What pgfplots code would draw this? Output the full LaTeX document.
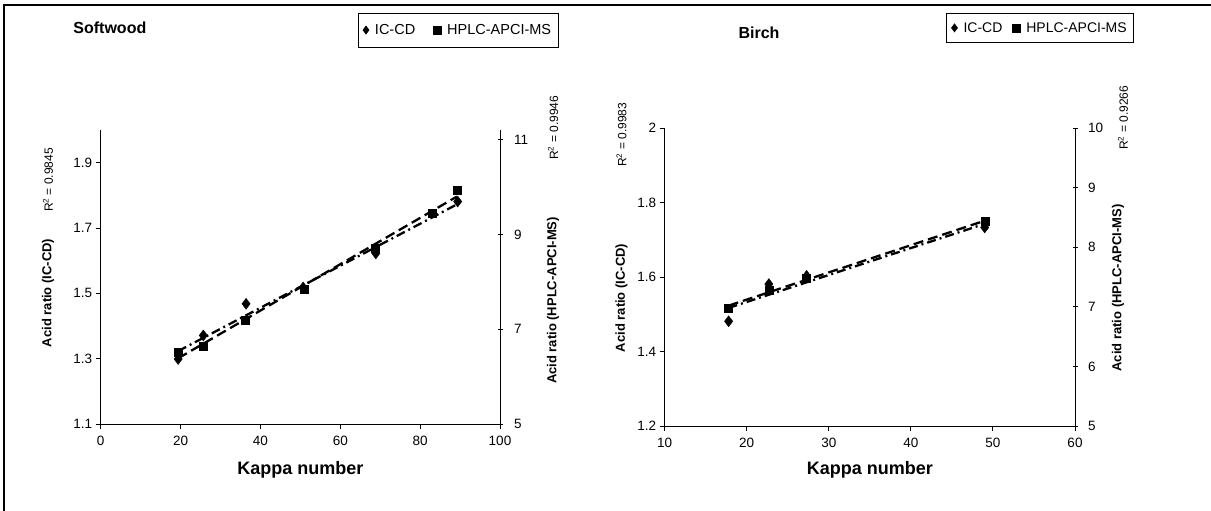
\documentclass[border=0pt]{standalone}
\usepackage{fontspec}
\setmainfont{Liberation Sans}
\usepackage{pgfplots}
\usepackage{pgfplotstable}
\pgfplotsset{compat=1.18}

\pgfplotstableread{
X Y
19.4 1.299
25.7 1.371
36.4 1.468
50.7 1.518
68.9 1.622
89.4 1.781
}\swic

\pgfplotstableread{
X Y
19.4 6.51
25.7 6.65
36.2 7.20
50.9 7.84
68.7 8.72
82.9 9.45
89.2 9.94
}\swms

\pgfplotstableread{
X Y
17.8 1.481
22.7 1.581
27.3 1.603
49.0 1.733
}\bic

\pgfplotstableread{
X Y
17.8 6.97
22.7 7.28
27.3 7.48
49.0 8.43
}\bms

\newcommand{\tickfont}{\fontsize{13.5}{16}\selectfont}
\pgfplotsset{
  every tick label/.append style={font=\tickfont},
  base/.style={
    scale only axis, clip=false,
    axis line style={black, line width=0.9pt, -},
    major tick style={black, line width=0.9pt},
    major tick length=5pt,
    xticklabel style={font=\tickfont, yshift=-4pt},
    yticklabel style={font=\tickfont},
    ylabel style={font=\bfseries\fontsize{13}{15}\selectfont, anchor=center},
    xlabel style={font=\bfseries\fontsize{18}{20}\selectfont, anchor=center},
  },
  icmark/.style={only marks, mark=diamond*, mark size=5.5pt, black},
  msmark/.style={only marks, mark=square*, mark size=4pt, black},
  icline/.style={no marks, black, line width=2.3pt, dash pattern=on 9pt off 4pt on 2pt off 4pt},
  msline/.style={no marks, black, line width=2.3pt, dash pattern=on 10pt off 5pt},
  leg/.style={legend columns=2, legend image post style={mark size=4pt},
    legend style={draw=black, line width=0.6pt, anchor=center, inner xsep=5pt, inner ysep=9pt,
      /tikz/every odd column/.append style={column sep=4pt},
      /tikz/every even column/.append style={column sep=16pt}}},
}

\begin{document}
\begin{tikzpicture}
\useasboundingbox (0pt,0pt) rectangle (1211pt,511pt);

% ---------------- Softwood ----------------
\begin{axis}[base, at={(100.7pt,87pt)}, anchor=south west,
  width=399.3pt, height=294pt,
  xmin=0, xmax=100, ymin=1.1, ymax=2.0,
  axis x line*=bottom, axis y line*=left, tick align=outside,
  xtick={0,20,40,60,80,100}, xticklabels={0,20,40,60,80,100},
  ytick={1.1,1.3,1.5,1.7,1.9}, yticklabels={1.1,1.3,1.5,1.7,1.9},
  xlabel={Kappa number}, xlabel style={at={(axis description cs:0.5,-0.156)}},
  ylabel={Acid ratio (IC-CD)}, ylabel style={at={(axis description cs:-0.132,0.446)}},
]
\addplot[icmark] table[x=X,y=Y]{\swic};
\addplot[icline] table[x=X, y={create col/linear regression={y=Y}}]{\swic};
\node[rotate=90, font=\fontsize{12}{14}\selectfont] at (axis description cs:-0.132,0.83) {R\textsuperscript{2} = 0.9845};
\node[font=\bfseries\fontsize{16}{18}\selectfont] at (axis description cs:0.023,1.347) {Softwood};
\end{axis}
\begin{axis}[base, leg, at={(100.7pt,87pt)}, anchor=south west,
  width=399.3pt, height=294pt,
  xmin=0, xmax=100, ymin=5, ymax=11.207,
  axis x line=none, axis y line*=right, tick align=center,
  ytick={5,7,9,11}, yticklabels={5,7,9,11},
  yticklabel style={xshift=8pt},
  ylabel={Acid ratio (HPLC-APCI-MS)}, ylabel style={at={(axis description cs:1.133,0.42)}},
  legend style={at={(axis description cs:0.895,1.34)}, font=\fontsize{14.5}{17}\selectfont},
]
\addlegendimage{icmark}
\addlegendentry{IC-CD}
\addplot[msmark] table[x=X,y=Y]{\swms};
\addlegendentry{HPLC-APCI-MS}
\addplot[msline, forget plot] table[x=X, y={create col/linear regression={y=Y}}]{\swms};
\node[rotate=90, font=\fontsize{12}{14}\selectfont] at (axis description cs:1.133,1.007) {R\textsuperscript{2} = 0.9946};
\end{axis}

% ---------------- Birch ----------------
\begin{axis}[base, at={(664.6pt,85pt)}, anchor=south west,
  width=410.4pt, height=298pt,
  xmin=10, xmax=60, ymin=1.2, ymax=2.0,
  axis x line*=bottom, axis y line*=left, tick align=outside,
  xtick={10,20,30,40,50,60}, xticklabels={10,20,30,40,50,60},
  ytick={1.2,1.4,1.6,1.8,2.0}, yticklabels={1.2,1.4,1.6,1.8,2},
  xlabel={Kappa number}, xlabel style={at={(axis description cs:0.5,-0.148)}},
  ylabel={Acid ratio (IC-CD)}, ylabel style={at={(axis description cs:-0.105,0.43)}},
]
\addplot[icmark] table[x=X,y=Y]{\bic};
\addplot[icline] table[x=X, y={create col/linear regression={y=Y}}]{\bic};
\node[rotate=90, font=\fontsize{12}{14}\selectfont] at (axis description cs:-0.105,0.977) {R\textsuperscript{2} = 0.9983};
\node[font=\bfseries\fontsize{16}{18}\selectfont] at (axis description cs:0.23,1.319) {Birch};
\end{axis}
\begin{axis}[base, leg, at={(664.6pt,85pt)}, anchor=south west,
  width=410.4pt, height=298pt,
  xmin=10, xmax=60, ymin=5, ymax=10,
  axis x line=none, axis y line*=right, tick align=center,
  ytick={5,6,7,8,9,10}, yticklabels={5,6,7,8,9,10},
  yticklabel style={xshift=7pt},
  ylabel={Acid ratio (HPLC-APCI-MS)}, ylabel style={at={(axis description cs:1.105,0.463)}},
  legend style={at={(axis description cs:0.915,1.336)}, font=\fontsize{14}{16}\selectfont, inner ysep=7pt,
    /tikz/every even column/.append style={column sep=8pt}},
]
\addlegendimage{icmark}
\addlegendentry{IC-CD}
\addplot[msmark] table[x=X,y=Y]{\bms};
\addlegendentry{HPLC-APCI-MS}
\addplot[msline, forget plot] table[x=X, y={create col/linear regression={y=Y}}]{\bms};
\node[rotate=90, font=\fontsize{12}{14}\selectfont] at (axis description cs:1.117,1.034) {R\textsuperscript{2} = 0.9266};
\end{axis}

\draw[line width=2.5pt] (4pt,0pt) -- (4pt,506pt) -- (1211pt,506pt);
\end{tikzpicture}
\end{document}
